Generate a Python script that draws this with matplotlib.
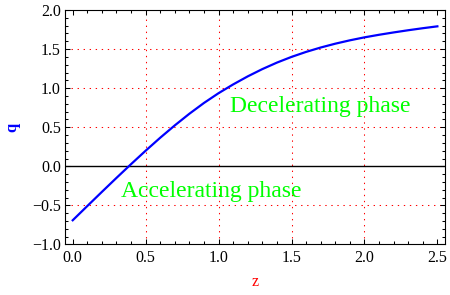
import matplotlib
matplotlib.use("Agg")
import matplotlib.pyplot as plt
from matplotlib.ticker import MultipleLocator, FixedLocator

z_vals = [0.0, 0.1, 0.2, 0.3, 0.4, 0.5, 0.6, 0.7, 0.8, 0.9, 1.0, 1.1, 1.2,
          1.3, 1.4, 1.5, 1.6, 1.7, 1.8, 1.9, 2.0, 2.1, 2.2, 2.3, 2.4, 2.5]
q_vals = [-0.690, -0.508, -0.327, -0.148, 0.028, 0.200, 0.366, 0.524, 0.673,
          0.811, 0.936, 1.048, 1.151, 1.244, 1.327, 1.400, 1.464, 1.520,
          1.569, 1.612, 1.650, 1.683, 1.713, 1.741, 1.767, 1.791]
x_ticks = [0.0, 0.5, 1.0, 1.5, 2.0, 2.5]
y_ticks = [-1.0, -0.5, 0.0, 0.5, 1.0, 1.5, 2.0]
x_grid = [0.5, 1.0, 1.5, 2.0]
y_grid = [-0.5, 0.5, 1.0, 1.5]
label_dec = "Decelerating phase"
label_acc = "Accelerating phase"

plt.rcParams['font.family'] = ['Liberation Serif', 'DejaVu Serif']
plt.rcParams['axes.unicode_minus'] = True

fig = plt.figure(figsize=(4.5, 2.95), dpi=100)
ax = fig.add_axes([0.1444, 0.1712, 0.8444, 0.7949])

grid_style = dict(color='#ff0000', lw=0.75, ls=(0, (1.3, 4.5)), zorder=1)
for gx in x_grid:
    ax.axvline(gx, **grid_style)
for gy in y_grid:
    ax.axhline(gy, **grid_style)
ax.axhline(0.0, color='black', lw=1.0, zorder=2)

ax.plot(z_vals, q_vals, color='#0000ff', lw=1.6, zorder=3)

ax.set_xlim(-0.053, 2.552)
ax.set_ylim(-1.0, 2.0)

ax.xaxis.set_major_locator(FixedLocator(x_ticks))
ax.yaxis.set_major_locator(FixedLocator(y_ticks))
ax.xaxis.set_minor_locator(MultipleLocator(0.1))
ax.yaxis.set_minor_locator(MultipleLocator(0.1))
ax.set_xticklabels([f"{v:.1f}" for v in x_ticks])
ax.set_yticklabels([("\u2212" + f"{abs(v):.1f}") if v < 0 else f"{v:.1f}" for v in y_ticks])

ax.tick_params(which='both', direction='in', top=True, right=True,
               width=0.75, labelsize=11.5, colors='black')
ax.tick_params(which='major', length=3.8)
ax.tick_params(which='minor', length=2.2)
ax.tick_params(axis='x', pad=4)
ax.tick_params(axis='y', pad=3)
for s in ax.spines.values():
    s.set_linewidth(0.8)

ax.set_xlabel("z", color='#ff0000', fontsize=11.5, labelpad=6)
ax.set_ylabel("q", color='#0000ff', fontsize=12, fontweight='bold', labelpad=8)

ax.text(1.70, 0.77, label_dec, color='#00ff00', fontsize=17,
        ha='center', va='center', zorder=4)
ax.text(0.95, -0.32, label_acc, color='#00ff00', fontsize=17,
        ha='center', va='center', zorder=4)

fig.savefig("out.png", dpi=100)
